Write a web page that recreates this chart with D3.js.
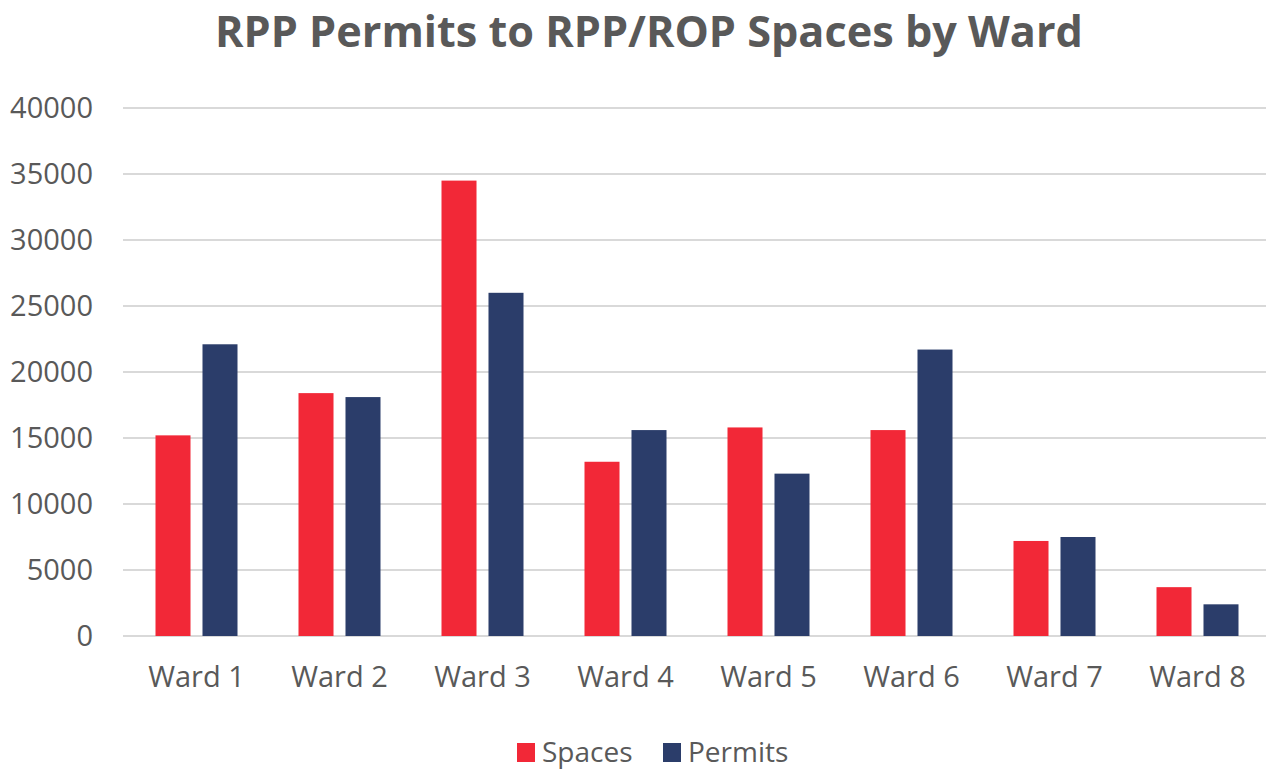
<!DOCTYPE html>
<html>
<head>
<meta charset="utf-8">
<script src="https://cdn.jsdelivr.net/npm/d3@7"></script>
<style>
  body { margin: 0; background: #fff; }
  svg text { font-family: "Open Sans", "Liberation Sans", sans-serif; fill: #595959; }
</style>
</head>
<body>
<div id="chart"></div>
<script>
const wards = ['Ward 1', 'Ward 2', 'Ward 3', 'Ward 4', 'Ward 5', 'Ward 6', 'Ward 7', 'Ward 8'];
const spaces = [15200, 18400, 34500, 13200, 15800, 15600, 7200, 3700];
const permits = [22100, 18100, 26000, 15600, 12300, 21700, 7500, 2400];
const yTicks = [0, 5000, 10000, 15000, 20000, 25000, 30000, 35000, 40000];
const seriesNames = ['Spaces', 'Permits'];
const colors = ['#F22837', '#2B3D6A'];

const width = 1270, height = 769;
const svg = d3.select('#chart').append('svg')
    .attr('width', width)
    .attr('height', height);

const x0 = d3.scaleBand().domain(wards).range([125, 1269]);
const x1 = d3.scaleBand().domain(seriesNames).range([30.5, 112.5]).paddingInner(0.255);
const y = d3.scaleLinear().domain([0, 40000]).range([636, 108]);

// gridlines
svg.append('g')
    .selectAll('line')
    .data(yTicks)
    .enter().append('line')
    .attr('x1', 123)
    .attr('x2', 1266)
    .attr('y1', d => y(d))
    .attr('y2', d => y(d))
    .attr('stroke', '#d9d9d9')
    .attr('stroke-width', 2);

// y axis labels
const yAxis = svg.append('g')
    .attr('transform', 'translate(93,0)')
    .call(d3.axisLeft(y).tickValues(yTicks).tickSize(0).tickPadding(0).tickFormat(d3.format('d')));
yAxis.select('.domain').remove();
yAxis.selectAll('text')
    .attr('font-size', 29)
    .style('font-family', '"Open Sans", sans-serif')
    .attr('fill', '#595959');

// x axis labels
const xAxis = svg.append('g')
    .attr('transform', 'translate(0,636)')
    .call(d3.axisBottom(x0).tickSize(0).tickPadding(30));
xAxis.select('.domain').remove();
xAxis.selectAll('text')
    .attr('font-size', 29)
    .style('font-family', '"Open Sans", sans-serif')
    .attr('fill', '#595959');

// bars
const rows = wards.map((w, i) => ({ ward: w, values: [spaces[i], permits[i]] }));
const groups = svg.append('g')
    .selectAll('g')
    .data(rows)
    .enter().append('g')
    .attr('transform', d => `translate(${x0(d.ward)},0)`);

groups.selectAll('rect')
    .data(d => d.values.map((v, j) => ({ key: seriesNames[j], value: v, color: colors[j] })))
    .enter().append('rect')
    .attr('x', d => x1(d.key))
    .attr('width', x1.bandwidth())
    .attr('y', d => y(d.value))
    .attr('height', d => y(0) - y(d.value))
    .attr('fill', d => d.color);

// title
const title = svg.append('text')
    .attr('x', 649)
    .attr('y', 47)
    .attr('text-anchor', 'middle')
    .attr('font-weight', 'bold')
    .attr('font-size', 40)
    .text('RPP Permits to RPP/ROP Spaces by Ward');
const tw = title.node().getComputedTextLength();
title.attr('font-size', 40 * 868 / tw);

// legend
const legend = svg.append('g');
const legendX = [517, 663];
seriesNames.forEach((name, i) => {
    legend.append('rect')
        .attr('x', legendX[i])
        .attr('y', 743)
        .attr('width', 18)
        .attr('height', 19)
        .attr('fill', colors[i]);
    legend.append('text')
        .attr('x', legendX[i] + 25)
        .attr('y', 762)
        .attr('font-size', 28)
        .text(name);
});
</script>
</body>
</html>
